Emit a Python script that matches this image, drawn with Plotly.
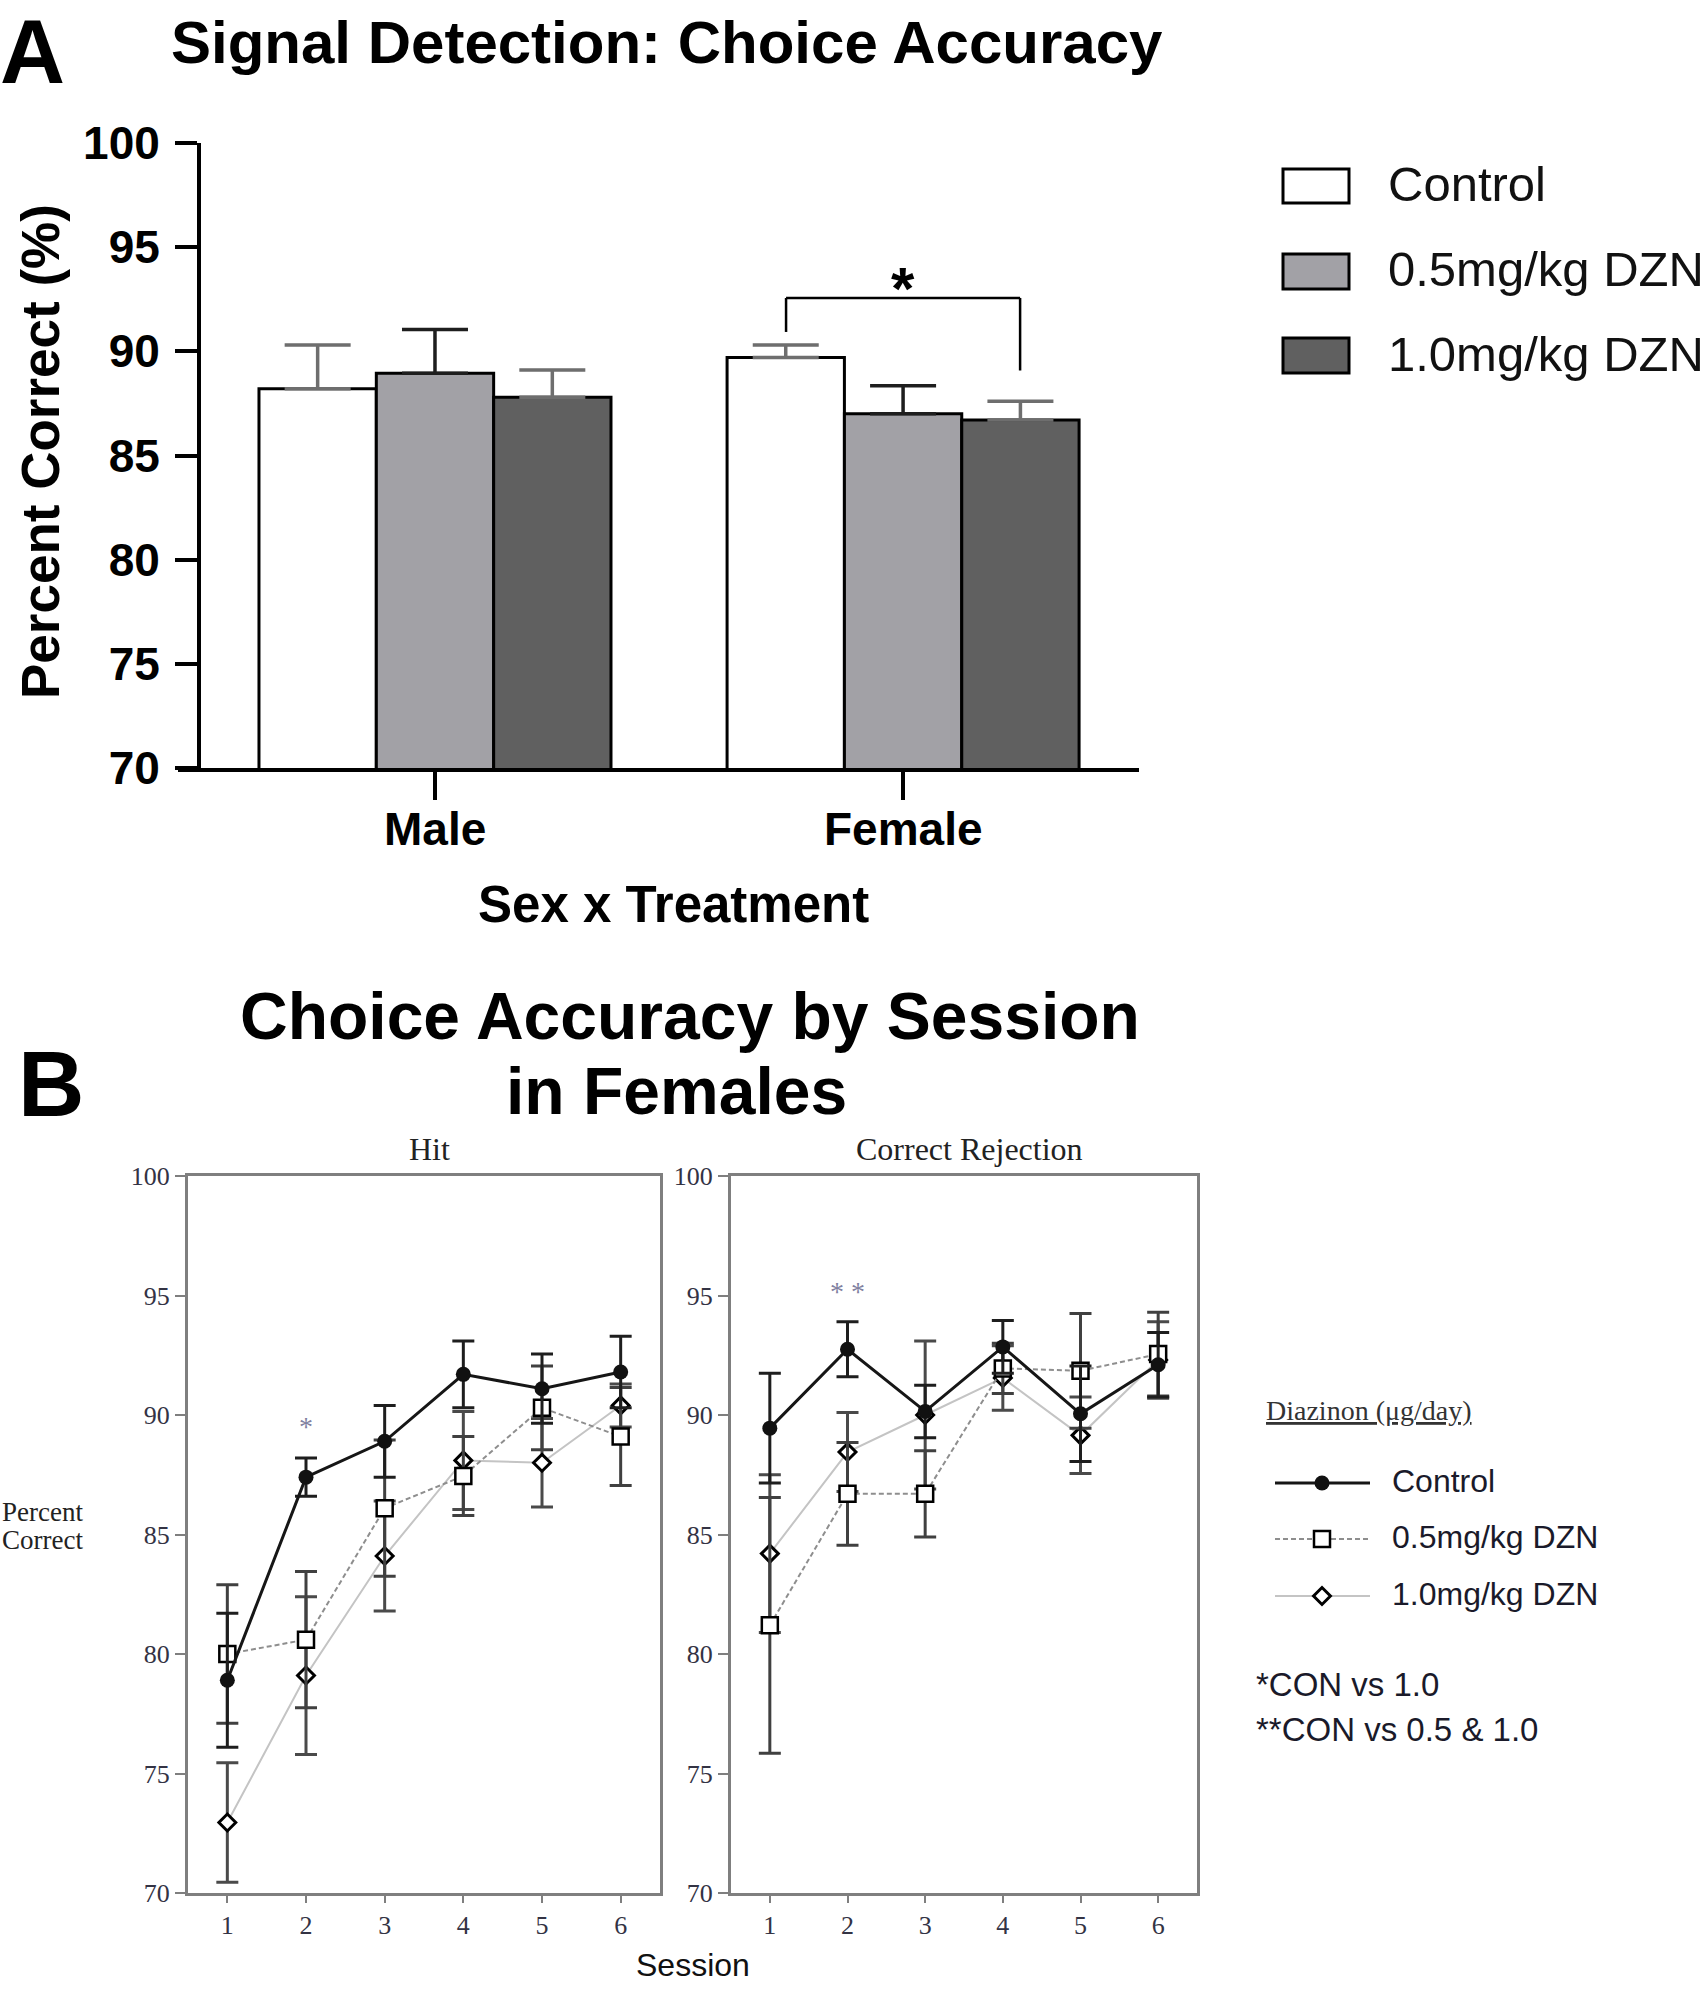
import plotly.graph_objects as go

W, H = 1708, 1989

# ---------------- Panel A data ----------------
sexes = ["Male", "Female"]
treatments = ["Control", "0.5mg/kg DZN", "1.0mg/kg DZN"]
acc_control = [88.2, 89.7]
acc_05 = [88.95, 87.0]
acc_10 = [87.8, 86.7]
sem_control = [2.1, 0.6]
sem_05 = [2.1, 1.35]
sem_10 = [1.3, 0.9]
a_yticks = [70, 75, 80, 85, 90, 95, 100]

# significance bracket (Female Control vs Female 1.0)
brk_top = 92.56
brk_left_end = 90.93
brk_right_end = 89.08
star_a_y = 93.57

# ---------------- Panel B data ----------------
sessions = [1, 2, 3, 4, 5, 6]
hit_control = [78.9, 87.4, 88.9, 91.7, 91.1, 91.8]
hit_control_err = [2.8, 0.8, 1.5, 1.4, 1.45, 1.5]
hit_05 = [80.0, 80.6, 86.1, 87.45, 90.3, 89.1]
hit_05_err = [2.9, 2.85, 2.85, 1.65, 1.75, 2.05]
hit_10 = [72.95, 79.1, 84.1, 88.1, 88.0, 90.4]
hit_10_err = [2.5, 3.3, 2.3, 2.05, 1.85, 0.9]

cr_control = [89.45, 92.75, 90.15, 92.85, 90.05, 92.1]
cr_control_err = [2.3, 1.15, 1.1, 1.1, 2.0, 1.35]
cr_05 = [81.2, 86.7, 86.7, 91.95, 91.85, 92.55]
cr_05_err = [5.35, 2.15, 1.8, 1.05, 2.4, 1.75]
cr_10 = [84.2, 88.45, 90.0, 91.55, 89.15, 92.3]
cr_10_err = [3.3, 1.65, 3.1, 1.35, 1.6, 1.6]
b_yticks = [70, 75, 80, 85, 90, 95, 100]

# ---------------- styles ----------------
SANS = "Liberation Sans, Arial, sans-serif"
SERIF = "Liberation Serif, Times New Roman, serif"
bar_fill = ["#ffffff", "#a2a1a6", "#606060"]
bar_err_col = ["#6e6e6e", "#1e1e1e", "#6e6e6e"]


def px(x):
    return x / W


def py(y):
    return 1 - y / H


fig = go.Figure()

# ---- Panel A bars ----
xpos = list(range(len(sexes)))
for vals, errs, fill, ecol, name in zip(
    [acc_control, acc_05, acc_10], [sem_control, sem_05, sem_10], bar_fill, bar_err_col, treatments
):
    fig.add_trace(go.Bar(
        x=xpos, y=vals, name=name, showlegend=False,
        marker=dict(color=fill, line=dict(color="black", width=3)),
        error_y=dict(type="data", array=errs, arrayminus=[0] * len(errs), symmetric=False,
                     color=ecol, thickness=3.5, width=33),
        xaxis="x", yaxis="y", hoverinfo="skip",
    ))

# ---- Panel B lines ----
series_style = [
    # (name, line color, dash, width, marker symbol, size, fill, line width, err color)
    ("1.0mg/kg DZN", "#c4c4c4", "solid", 2, "diamond", 13, "white", 3, "#4a4a4a"),
    ("0.5mg/kg DZN", "#8e8e8e", "5px,3px", 2, "square", 16, "white", 2.5, "#404040"),
    ("Control", "#161616", "solid", 3, "circle", 15, "#111111", 0, "#1e1e1e"),
]
panels = [
    ("x2", "y2", [hit_10, hit_05, hit_control], [hit_10_err, hit_05_err, hit_control_err]),
    ("x3", "y3", [cr_10, cr_05, cr_control], [cr_10_err, cr_05_err, cr_control_err]),
]
for xa, ya, vals_list, err_list in panels:
    for (name, lc, dash, lw, sym, ms, mfill, mlw, ecol), vals, errs in zip(series_style, vals_list, err_list):
        fig.add_trace(go.Scatter(
            x=sessions, y=vals, mode="lines+markers", name=name, showlegend=False,
            line=dict(color=lc, dash=dash, width=lw),
            marker=dict(symbol=sym, size=ms, color=mfill, line=dict(color="black", width=mlw)),
            error_y=dict(type="data", array=errs, color=ecol, thickness=3, width=11),
            xaxis=xa, yaxis=ya, hoverinfo="skip", cliponaxis=False,
        ))

# ---- Panel B legend (overlay pixel axis) ----
leg_x0, leg_x1, leg_xm = 1275, 1370, 1322
leg_rows = [1483, 1539, 1596]
leg_order = [series_style[2], series_style[1], series_style[0]]
for (name, lc, dash, lw, sym, ms, mfill, mlw, ecol), yy in zip(leg_order, leg_rows):
    fig.add_trace(go.Scatter(
        x=[leg_x0, leg_x1], y=[yy, yy], mode="lines", showlegend=False,
        line=dict(color=lc, dash=dash, width=lw), xaxis="x4", yaxis="y4", hoverinfo="skip"))
    fig.add_trace(go.Scatter(
        x=[leg_xm], y=[yy], mode="markers", showlegend=False,
        marker=dict(symbol=sym, size=ms, color=mfill, line=dict(color="black", width=mlw)),
        xaxis="x4", yaxis="y4", hoverinfo="skip"))

# ---------------- layout ----------------
axis_b_common = dict(
    showline=True, mirror=True, linecolor="#7f7f7f", linewidth=3,
    tickwidth=2, tickcolor="#7f7f7f", ticks="outside",
    tickfont=dict(family=SERIF, size=26, color="#333344"),
    showgrid=False, zeroline=False, automargin=False,
)

fig.update_layout(
    template="none",
    width=W, height=H, margin=dict(l=0, r=0, t=0, b=0, pad=0, autoexpand=False),
    paper_bgcolor="white", plot_bgcolor="rgba(0,0,0,0)",
    barmode="group", bargap=0.248, bargroupgap=0,
    xaxis=dict(
        domain=[px(178), px(1139)], range=[-0.549, 1.504], anchor="y",
        tickvals=xpos, showticklabels=False,
        showline=True, linecolor="black", linewidth=4,
        ticks="outside", ticklen=28, tickwidth=4, tickcolor="black",
        showgrid=False, zeroline=False, automargin=False,
    ),
    yaxis=dict(
        domain=[py(768), py(143)], range=[70, 100], anchor="free", position=px(199),
        tickvals=a_yticks,
        showline=True, linecolor="black", linewidth=4,
        ticks="outside", ticklen=22, tickwidth=4, tickcolor="black",
        tickfont=dict(family=SANS, size=46, color="black", weight="bold"),
        ticklabelstandoff=6, showgrid=False, zeroline=False, automargin=False,
    ),
    xaxis2=dict(domain=[px(188), px(660)], range=[0.5, 6.5], anchor="y2", tickvals=sessions,
                ticklen=7, **axis_b_common),
    yaxis2=dict(domain=[py(1893), py(1176)], range=[70, 100], anchor="x2", tickvals=b_yticks,
                ticklen=10, **axis_b_common),
    xaxis3=dict(domain=[px(731), px(1197)], range=[0.5, 6.5], anchor="y3", tickvals=sessions,
                ticklen=7, **axis_b_common),
    yaxis3=dict(domain=[py(1893), py(1176)], range=[70, 100], anchor="x3", tickvals=b_yticks,
                ticklen=10, **axis_b_common),
    xaxis4=dict(domain=[0, 1], range=[0, W], anchor="y4", visible=False, fixedrange=True, automargin=False),
    yaxis4=dict(domain=[0, 1], range=[H, 0], anchor="x4", visible=False, fixedrange=True, automargin=False),
)

# bracket
fig.add_shape(type="line", xref="x", yref="y", x0=0.75, x1=0.75, y0=brk_left_end, y1=brk_top,
              line=dict(color="black", width=2.5))
fig.add_shape(type="line", xref="x", yref="y", x0=0.75, x1=1.25, y0=brk_top, y1=brk_top,
              line=dict(color="black", width=2.5))
fig.add_shape(type="line", xref="x", yref="y", x0=1.25, x1=1.25, y0=brk_top, y1=brk_right_end,
              line=dict(color="black", width=2.5))

# Panel A legend swatches
leg_a_rows = [(169, 203), (254, 289), (338, 373)]
for (y0, y1), fill in zip(leg_a_rows, bar_fill):
    fig.add_shape(type="rect", xref="paper", yref="paper", x0=px(1283), x1=px(1349), y0=py(y1), y1=py(y0),
                  fillcolor=fill, line=dict(color="black", width=3))

ann = []


def text(x, y, s, size, family=SANS, bold=False, color="black", xanchor="center", yanchor="middle", angle=0):
    ann.append(dict(
        x=px(x), y=py(y), xref="paper", yref="paper", text=s, showarrow=False,
        font=dict(family=family, size=size, color=color, weight="bold" if bold else "normal"),
        xanchor=xanchor, yanchor=yanchor, textangle=angle,
    ))


# Panel A texts
text(-2, 0, "A", 90, bold=True, xanchor="left", yanchor="top")
text(667, 42, "Signal Detection: Choice Accuracy", 60, bold=True)
text(41, 452, "Percent Correct (%)", 53, bold=True, angle=-90)
text(673, 905, "Sex x Treatment", 51, bold=True)
for (y0, y1), name in zip(leg_a_rows, treatments):
    text(1386, (y0 + y1) / 2 - 2, name, 49, color="#111111", xanchor="left")

# category labels under the bar axis
for i, s in zip(xpos, sexes):
    ann.append(dict(x=i, y=py(829), xref="x", yref="paper", text=s, showarrow=False,
                    font=dict(family=SANS, size=46, color="black", weight="bold"),
                    xanchor="center", yanchor="middle"))

# star above bracket
ann.append(dict(x=1.0, y=star_a_y, xref="x", yref="y", text="*", showarrow=False,
                font=dict(family=SANS, size=60, color="black", weight="bold"),
                xanchor="center", yanchor="middle", yshift=-12))

# Panel B texts
text(16, 1084, "B", 92, bold=True, xanchor="left")
text(690, 1016, "Choice Accuracy by Session", 66, bold=True)
text(676, 1091, "in Females", 66, bold=True)
text(429, 1149, "Hit", 32, family=SERIF, color="#222222")
text(969, 1149, "Correct Rejection", 32, family=SERIF, color="#222222")
text(0, 1512, "Percent", 27, family=SERIF, color="#222222", xanchor="left")
text(0, 1540, "Correct", 27, family=SERIF, color="#222222", xanchor="left")
text(693, 1965, "Session", 32, color="#111111")
text(1264, 1410, "<u>Diazinon (μg/day)</u>", 28, family=SERIF, color="#333333", xanchor="left")
for yy, (name, *_r) in zip(leg_rows, leg_order):
    text(1390, yy - 2, name, 32, color="#1a1a2a", xanchor="left")
text(1254, 1684, "*CON vs 1.0", 33, color="#1a1a2a", xanchor="left")
text(1254, 1729, "**CON vs 0.5 &amp; 1.0", 33, color="#1a1a2a", xanchor="left")

# significance marks in B
ann.append(dict(x=2, y=89.8, xref="x2", yref="y2", text="*", showarrow=False,
                font=dict(family=SERIF, size=28, color="#8080a0"), yshift=-7))
ann.append(dict(x=2, y=95.45, xref="x3", yref="y3", text="* *", showarrow=False,
                font=dict(family=SERIF, size=28, color="#8080a0"), yshift=-7))

fig.update_layout(annotations=ann)

fig.write_html("out.html", config={"displayModeBar": False},
               post_script="document.body.style.margin='0';")
